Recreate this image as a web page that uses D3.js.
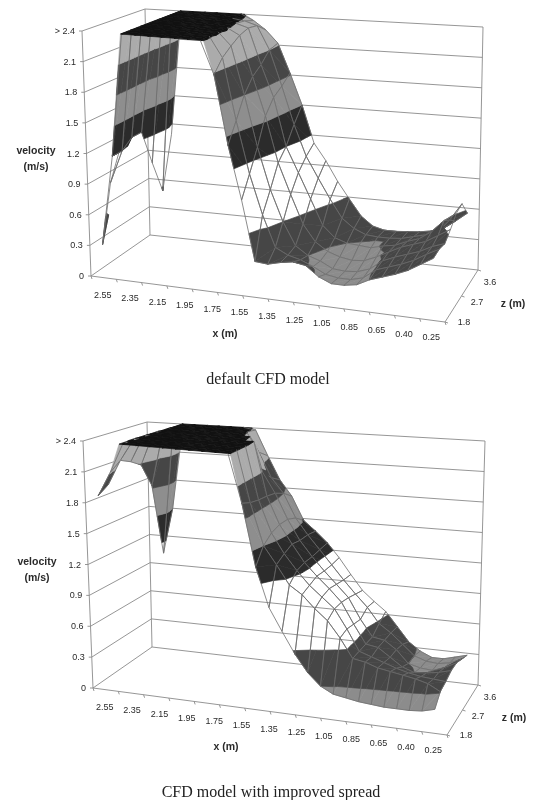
<!DOCTYPE html>
<html>
<head>
<meta charset="utf-8">
<script src="https://d3js.org/d3.v7.min.js"></script>
<style>
html, body { margin: 0; background: #fff; }
svg { display: block; filter: blur(0.65px); }
</style>
</head>
<body>
<div id="container"></div>
<script>
const _ = null;

// x categories of the surface, only some of them get a label
const xCategories = [2.55, 2.45, 2.35, 2.25, 2.15, 2.05, 1.95, 1.85, 1.75, 1.65, 1.55, 1.45, 1.35, 1.3,
  1.25, 1.15, 1.05, 0.95, 0.85, 0.75, 0.65, 0.6, 0.55, 0.5, 0.45, 0.4, 0.25];
const xLabels = ["2.55", "2.35", "2.15", "1.95", "1.75", "1.55", "1.35", "1.25", "1.05", "0.85", "0.65", "0.40", "0.25"];
const zCategories = [1.8, 2.1, 2.4, 2.7, 3.0, 3.3, 3.6];
const zLabels = [1.8, 2.7, 3.6];
const yTicks = [0, 0.3, 0.6, 0.9, 1.2, 1.5, 1.8, 2.1, 2.4];
const yTickLabels = ["0", "0.3", "0.6", "0.9", "1.2", "1.5", "1.8", "2.1", "> 2.4"];
const bandEdges = [0, 0.3, 0.6, 1.2, 1.5, 1.8, 2.1, 2.4, 9];
const bandFills = ["#8c8c8c", "#464646", "none", "#2b2b2b", "#8e8e8e", "#464646", "#ababab", "#111111"];

// default CFD model, one array per z value
const defaultZ18 = [0.32, 1.2, 2.5, 2.5, 2.5, 2.5, 2.5, 2.5, 2.5, 2.08, 1.42, 0.91, 0.34, 0.33, 0.36, 0.38, 0.36, 0.27, 0.22, 0.22, 0.24, 0.3, 0.34, 0.38, 0.43, 0.5, 0.57];
const defaultZ21 = [0.87, 1.2, 2.5, 2.5, 2.5, 2.5, 2.5, 2.5, 2.47, 2.2, 1.6, 1.1, 0.72, 0.42, 0.36, 0.33, 0.28, 0.22, 0.2, 0.2, 0.23, 0.32, 0.36, 0.4, 0.45, 0.52, 0.58];
const defaultZ24 = [1.14, 1.28, 2.5, 2.5, 2.5, 2.5, 2.5, 2.5, 2.45, 2.27, 1.8, 1.3, 0.9, 0.6, 0.38, 0.3, 0.26, 0.2, 0.19, 0.2, 0.24, 0.33, 0.38, 0.42, 0.46, 0.52, 0.56];
const defaultZ27 = [_, 1.28, 2.5, 2.5, 2.5, 2.5, 2.5, 2.5, 2.41, 2.33, 1.93, 1.55, 1.1, 0.8, 0.52, 0.36, 0.28, 0.24, 0.22, 0.23, 0.28, 0.34, 0.4, 0.44, 0.48, 0.55, 0.62];
const defaultZ30 = [_, 0.91, 2.5, 2.5, 2.5, 2.5, 2.5, 2.5, 2.4, 2.36, 2.0, 1.68, 1.2, 0.95, 0.7, 0.45, 0.34, 0.3, 0.29, 0.28, 0.31, 0.33, 0.38, 0.42, 0.5, 0.62, 0.7];
const defaultZ33 = [_, 0.56, 2.5, 2.5, 2.5, 2.5, 2.5, 2.5, 2.38, 2.34, 2.1, 1.74, 1.36, 1.05, 0.84, 0.64, 0.46, 0.37, 0.32, 0.31, 0.31, 0.32, 0.35, 0.38, 0.42, 0.55, 0.72];
const defaultZ36 = [_, 1.09, 2.5, 2.5, 2.5, 2.5, 2.5, 2.42, 2.34, 2.25, 2.12, 1.82, 1.5, 1.12, 0.95, 0.75, 0.58, 0.42, 0.33, 0.3, 0.3, 0.31, 0.32, 0.34, 0.38, 0.46, 0.55];

// CFD model with improved spread
const spreadZ18 = [1.88, 2.12, 2.5, 2.5, 2.5, 2.5, 2.5, 2.5, 2.5, 2.5, 2.5, 1.94, 1.35, 0.98, 0.77, 0.57, 0.41, 0.3, 0.24, 0.22, 0.2, 0.19, 0.18, 0.18, 0.18, 0.19, 0.22];
const spreadZ21 = [1.95, 2.2, 2.5, 2.5, 2.5, 2.5, 2.5, 2.5, 2.5, 2.5, 2.5, 1.9, 1.5, 1.33, 1.15, 1.07, 0.95, 0.85, 0.7, 0.52, 0.5, 0.46, 0.44, 0.42, 0.4, 0.37, 0.31];
const spreadZ24 = [_, 2.15, 2.5, 2.5, 2.5, 2.5, 2.5, 2.5, 2.5, 2.5, 2.5, 1.88, 1.57, 1.38, 1.23, 1.1, 1.0, 0.9, 0.72, 0.52, 0.48, 0.44, 0.4, 0.37, 0.35, 0.34, 0.33];
const spreadZ27 = [_, 2.08, 2.5, 2.5, 2.5, 2.5, 2.5, 2.5, 2.5, 2.5, 2.4, 1.87, 1.6, 1.42, 1.25, 1.13, 1.02, 0.9, 0.7, 0.52, 0.5, 0.42, 0.34, 0.3, 0.31, 0.33, 0.36];
const spreadZ30 = [_, 1.83, 2.5, 2.5, 2.5, 2.5, 2.5, 2.5, 2.5, 2.4, 2.05, 1.85, 1.6, 1.4, 1.25, 1.12, 1.0, 0.88, 0.68, 0.52, 0.5, 0.42, 0.3, 0.27, 0.26, 0.3, 0.36];
const spreadZ33 = [_, 1.08, 2.5, 2.5, 2.5, 2.5, 2.5, 2.5, 2.42, 2.2, 1.95, 1.8, 1.56, 1.4, 1.26, 1.12, 0.98, 0.85, 0.73, 0.58, 0.5, 0.4, 0.3, 0.26, 0.25, 0.27, 0.32];
const spreadZ36 = [_, 1.5, 2.5, 2.5, 2.5, 2.5, 2.5, 2.45, 2.38, 2.12, 1.88, 1.72, 1.48, 1.38, 1.27, 1.13, 0.97, 0.82, 0.72, 0.63, 0.49, 0.35, 0.27, 0.22, 0.22, 0.25, 0.28];

const defaultRows = [defaultZ18, defaultZ21, defaultZ24, defaultZ27, defaultZ30, defaultZ33, defaultZ36];
const spreadRows = [spreadZ18, spreadZ21, spreadZ24, spreadZ27, spreadZ30, spreadZ33, spreadZ36];

const width = 535;
const height = 800;
const gridColor = "#8a8a8a";
const meshColor = "#6e6e6e";
const textColor = "#2a2a2a";

const svg = d3.select("#container").append("svg").attr("width", width).attr("height", height);
svg.append("rect").attr("width", width).attr("height", height).attr("fill", "#fff");

const xPos = d3.scalePoint().domain(xCategories).range([0, 1]).padding(1);
const zPos = d3.scalePoint().domain(zCategories).range([0, 1]);
const yPos = d3.scaleLinear().domain([0, 2.4]).range([0, 1]).clamp(true);
const pathLine = d3.line();

function clipBelow(poly, limit, keepAbove) {
  // clip a polygon on its value, keeping one side of the limit
  const out = [];
  poly.forEach((p, k) => {
    const q = poly[(k + 1) % poly.length];
    const pIn = keepAbove ? p.h >= limit : p.h <= limit;
    const qIn = keepAbove ? q.h >= limit : q.h <= limit;
    if (pIn) out.push(p);
    if (pIn !== qIn) {
      const t = (limit - p.h) / (q.h - p.h);
      out.push({ u: p.u + (q.u - p.u) * t, v: p.v + (q.v - p.v) * t, h: limit });
    }
  });
  return out;
}

function drawPanel(rows, panel) {
  const g = svg.append("g");
  const { O, A, B, C, Ot, At, Bt, Ct } = panel;
  const bilerp = (p00, p10, p01, p11, u, v) => [
    (1 - u) * (1 - v) * p00[0] + u * (1 - v) * p10[0] + (1 - u) * v * p01[0] + u * v * p11[0],
    (1 - u) * (1 - v) * p00[1] + u * (1 - v) * p10[1] + (1 - u) * v * p01[1] + u * v * p11[1]
  ];
  const project = (u, v, h) => {
    const low = bilerp(O, A, B, C, u, v);
    const top = bilerp(Ot, At, Bt, Ct, u, v);
    const w = yPos(h);
    return [low[0] + (top[0] - low[0]) * w, low[1] + (top[1] - low[1]) * w];
  };
  const seg = (a, b, color, w) =>
    g.append("path").attr("d", pathLine([a, b])).attr("fill", "none")
      .attr("stroke", color || gridColor).attr("stroke-width", w || 0.9);

  // walls and floor
  yTicks.forEach(t => {
    seg(project(0, 0, t), project(0, 1, t));
    seg(project(0, 1, t), project(1, 1, t));
    const p = project(0, 0, t);
    seg([p[0] - 3, p[1]], p);
  });
  seg(project(0, 0, 0), project(0, 0, 2.4));
  seg(project(0, 1, 0), project(0, 1, 2.4));
  seg(project(1, 1, 0), project(1, 1, 2.4));
  seg(project(0, 0, 0), project(1, 0, 0));
  seg(project(1, 0, 0), project(1, 1, 0));

  // x ticks sit every second category step
  d3.range(15).forEach(k => {
    const p = project(k / 14, 0, 0);
    seg(p, [p[0] + 1, p[1] + 3]);
  });
  zLabels.forEach(z => {
    const p = project(1, zPos(z), 0);
    seg(p, [p[0] + 3, p[1] + 1]);
  });

  // surface, back rows first, left columns first
  d3.range(rows.length - 2, -1, -1).forEach(r => {
    d3.range(0, xCategories.length - 1).forEach(i => {
      const corner = (ci, cr) => ({ u: xPos(xCategories[ci]), v: zPos(zCategories[cr]), h: rows[cr][ci] });
      const a = corner(i, r), b = corner(i + 1, r), c = corner(i + 1, r + 1), d = corner(i, r + 1);
      if ([a, b, c, d].some(p => p.h === null)) return;
      [[a, b, c], [a, c, d]].forEach(tri => {
        bandFills.forEach((fill, k) => {
          if (fill === "none") return;
          let poly = clipBelow(tri, bandEdges[k], true);
          if (poly.length) poly = clipBelow(poly, bandEdges[k + 1], false);
          if (poly.length < 3) return;
          g.append("path")
            .attr("d", pathLine(poly.map(p => project(p.u, p.v, p.h))) + "Z")
            .attr("fill", fill).attr("stroke", fill).attr("stroke-width", 0.7);
        });
      });
      [[a, b], [b, c], [c, d], [d, a]].forEach(([p, q]) => {
        if (p.h >= 2.4 && q.h >= 2.4) return;
        seg(project(p.u, p.v, p.h), project(q.u, q.v, q.h), meshColor, 0.8);
      });
    });
  });

  // tick labels
  const label = (x, y, s, opts) => g.append("text").attr("x", x).attr("y", y).text(s)
    .attr("font-family", "'Liberation Sans', Arial, sans-serif")
    .attr("font-size", (opts && opts.size) || 9)
    .attr("font-weight", (opts && opts.weight) || 400)
    .attr("text-anchor", (opts && opts.anchor) || "middle")
    .attr("fill", textColor);

  yTicks.forEach((t, k) => {
    const p = project(0, 0, t);
    label(p[0] - 7, p[1] + 3, yTickLabels[k], { anchor: "end" });
  });
  const labelU = d3.scalePoint().domain(xLabels).range([xPos(xCategories[0]), xPos(xCategories[xCategories.length - 1])]);
  xLabels.forEach(s => {
    const p = project(labelU(s), 0, 0);
    label(p[0] - 1, p[1] + 20, s);
  });
  zLabels.forEach(z => {
    const v = zPos(z);
    const p = project(1, v, 0);
    label(p[0] + 19 - 7 * v, p[1] + 3 + 12 * v, z.toFixed(1));
  });

  label(panel.vel[0], panel.vel[1], "velocity", { weight: 700, size: 10.5 });
  label(panel.vel[0], panel.vel[1] + 16, "(m/s)", { weight: 700, size: 10.5 });
  label(panel.xTitle[0], panel.xTitle[1], "x (m)", { weight: 700, size: 10.5 });
  label(panel.zTitle[0], panel.zTitle[1], "z (m)", { weight: 700, size: 10.5 });

  g.append("text").attr("x", panel.caption[0]).attr("y", panel.caption[1])
    .attr("text-anchor", "middle")
    .attr("font-family", "'Liberation Serif', serif")
    .attr("font-size", 16)
    .attr("fill", "#222")
    .text(panel.captionText);
}

drawPanel(defaultRows, {
  O: [91, 276], A: [445, 322], B: [150, 235], C: [478, 270],
  Ot: [82, 31], At: [450, 60], Bt: [145, 9], Ct: [483, 27],
  vel: [36, 154], xTitle: [225, 337], zTitle: [513, 307],
  caption: [268, 384], captionText: "default CFD model"
});

drawPanel(spreadRows, {
  O: [93, 688], A: [447, 735], B: [152, 647], C: [478, 685],
  Ot: [83, 441], At: [452, 473], Bt: [147, 422], Ct: [485, 441],
  vel: [37, 565], xTitle: [226, 750], zTitle: [514, 721],
  caption: [271, 797], captionText: "CFD model with improved spread"
});
</script>
</body>
</html>
